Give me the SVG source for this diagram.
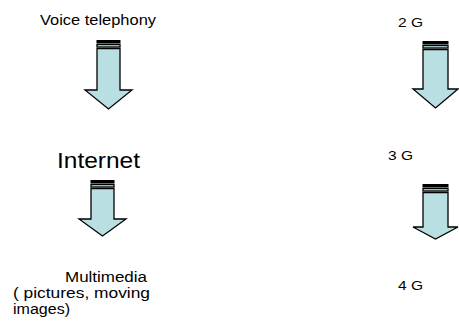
<svg xmlns="http://www.w3.org/2000/svg" width="459" height="328" viewBox="0 0 459 328">
<style>
.t{font-family:"Liberation Sans",Arial,sans-serif;fill:#000}
.a{fill:#b9dfe3;stroke:#000;stroke-width:1.3;stroke-linejoin:miter}
.s{fill:#000;stroke:#000;stroke-width:1}
</style>
<rect width="459" height="328" fill="#fff"/>
<g id="voice"><text class="t" x="40" y="25" font-size="14" textLength="116" lengthAdjust="spacingAndGlyphs">Voice telephony</text></g>
<g id="internet"><text class="t" x="57" y="168" font-size="22" textLength="83" lengthAdjust="spacingAndGlyphs">Internet</text></g>
<g id="multimedia">
<text class="t" x="65" y="282" font-size="15.5" textLength="82" lengthAdjust="spacingAndGlyphs">Multimedia</text>
<text class="t" x="13" y="298" font-size="15.5" textLength="137" lengthAdjust="spacingAndGlyphs">(  pictures, moving</text>
<text class="t" x="13" y="314" font-size="15.5" textLength="57" lengthAdjust="spacingAndGlyphs">images)</text>
</g>
<g id="g2"><text class="t" x="398" y="27" font-size="13" textLength="25" lengthAdjust="spacingAndGlyphs">2 G</text></g>
<g id="g3"><text class="t" x="388" y="160" font-size="13" textLength="25" lengthAdjust="spacingAndGlyphs">3 G</text></g>
<g id="g4"><text class="t" x="398" y="290" font-size="13" textLength="25" lengthAdjust="spacingAndGlyphs">4 G</text></g>
<g id="connectors">
<g id="arrow1">
<rect class="s" x="97" y="40.5" width="23" height="2.5"/>
<rect class="a" x="97" y="44.5" width="23" height="2.5"/>
<path class="a" d="M97 48.5H120V90H132L108.5 109L85 90H97Z"/>
</g>
<g id="arrow2">
<rect class="s" x="423" y="41.5" width="25" height="2.5"/>
<rect class="a" x="423" y="45.5" width="25" height="2.5"/>
<path class="a" d="M423 49.5H448V89H458L435.5 108L413 89H423Z"/>
</g>
<g id="arrow3">
<rect class="s" x="91" y="180.5" width="23" height="2.5"/>
<rect class="a" x="91" y="184.5" width="23" height="2.5"/>
<path class="a" d="M91 188.5H114V219H126L102.5 236L79 219H91Z"/>
</g>
<g id="arrow4">
<rect class="s" x="423" y="184.5" width="25" height="2.5"/>
<rect class="a" x="423" y="188.5" width="25" height="2.5"/>
<path class="a" d="M423 192.5H448V227H458L435.5 239L413 227H423Z"/>
</g>
</g>
</svg>
